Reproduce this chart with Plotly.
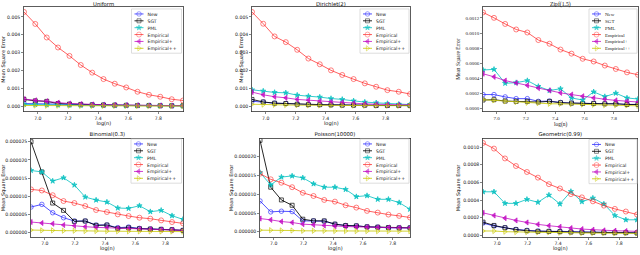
import plotly.graph_objects as go

W, H = 640, 255
S = 2  # drawn at 2x, shown at 1x via CSS scale (keeps tiny fonts at their true size)

# ---------------- data ----------------
x_top = [6.908, 6.983, 7.059, 7.134, 7.210, 7.285, 7.361, 7.436, 7.511, 7.587, 7.662, 7.738, 7.813, 7.889, 7.964]
x_bottom = [6.908, 6.980, 7.052, 7.124, 7.196, 7.268, 7.340, 7.412, 7.484, 7.556, 7.628, 7.700, 7.772, 7.844, 7.917]

series_names = ["New", "SGT", "PML", "Empirical", "Empirical+", "Empirical++"]

# Uniform (x1e-3)
uniform_new = [0.15, 0.14, 0.12, 0.10, 0.09, 0.08, 0.07, 0.06, 0.05, 0.05, 0.04, 0.04, 0.03, 0.03, 0.03]
uniform_sgt = [0.38, 0.30, 0.27, 0.15, 0.12, 0.10, 0.08, 0.07, 0.06, 0.05, 0.04, 0.04, 0.03, 0.03, 0.03]
uniform_pml = [0.10, 0.09, 0.08, 0.07, 0.06, 0.05, 0.05, 0.04, 0.04, 0.03, 0.03, 0.03, 0.03, 0.02, 0.02]
uniform_emp = [5.28, 4.61, 3.85, 3.29, 2.82, 2.31, 1.88, 1.52, 1.26, 1.05, 0.81, 0.64, 0.53, 0.39, 0.32]
uniform_empp = [0.40, 0.33, 0.28, 0.20, 0.15, 0.12, 0.10, 0.08, 0.07, 0.06, 0.05, 0.04, 0.04, 0.03, 0.03]
uniform_emppp = [0.04, 0.04, 0.03, 0.03, 0.03, 0.02, 0.02, 0.02, 0.02, 0.02, 0.01, 0.01, 0.01, 0.01, 0.01]

# Dirichlet(2) (x1e-3)
dirichlet_new = [0.28, 0.23, 0.17, 0.15, 0.11, 0.09, 0.08, 0.07, 0.06, 0.05, 0.05, 0.04, 0.04, 0.04, 0.03]
dirichlet_sgt = [0.38, 0.24, 0.17, 0.15, 0.11, 0.09, 0.09, 0.08, 0.06, 0.06, 0.06, 0.04, 0.04, 0.04, 0.04]
dirichlet_pml = [0.92, 0.85, 0.77, 0.75, 0.62, 0.56, 0.51, 0.43, 0.38, 0.30, 0.23, 0.19, 0.15, 0.11, 0.09]
dirichlet_emp = [5.28, 4.62, 3.91, 3.59, 3.16, 2.67, 2.35, 2.01, 1.75, 1.52, 1.28, 1.09, 0.90, 0.81, 0.68]
dirichlet_empp = [0.79, 0.64, 0.53, 0.47, 0.38, 0.34, 0.28, 0.24, 0.21, 0.17, 0.13, 0.11, 0.09, 0.08, 0.08]
dirichlet_emppp = [0.11, 0.09, 0.08, 0.07, 0.06, 0.05, 0.05, 0.04, 0.04, 0.04, 0.03, 0.03, 0.03, 0.03, 0.03]

# Zipf(1.5) (x1e-3)
zipf_new = [0.185, 0.185, 0.154, 0.131, 0.131, 0.095, 0.099, 0.081, 0.072, 0.068, 0.068, 0.063, 0.063, 0.054, 0.054]
zipf_sgt = [0.113, 0.117, 0.099, 0.095, 0.095, 0.086, 0.095, 0.077, 0.072, 0.068, 0.068, 0.063, 0.063, 0.054, 0.054]
zipf_pml = [0.510, 0.519, 0.334, 0.343, 0.370, 0.293, 0.239, 0.262, 0.140, 0.113, 0.221, 0.158, 0.203, 0.140, 0.126]
zipf_emp = [1.273, 1.201, 1.120, 1.047, 1.007, 0.907, 0.858, 0.781, 0.727, 0.659, 0.623, 0.569, 0.524, 0.479, 0.447]
zipf_empp = [0.461, 0.420, 0.370, 0.339, 0.307, 0.271, 0.239, 0.208, 0.185, 0.163, 0.140, 0.122, 0.108, 0.095, 0.086]
zipf_emppp = [0.117, 0.108, 0.095, 0.086, 0.077, 0.072, 0.063, 0.063, 0.059, 0.054, 0.050, 0.045, 0.045, 0.041, 0.036]

# Binomial(0.3) (x1e-6)
binom_new = [7.05, 7.78, 5.49, 4.12, 3.21, 3.21, 2.11, 2.11, 1.37, 1.56, 1.19, 1.01, 0.92, 0.82, 0.64]
binom_sgt = [25.0, 16.7, 8.15, 6.14, 3.11, 3.21, 2.01, 2.11, 1.19, 1.37, 1.10, 1.01, 0.92, 0.82, 0.64]
binom_pml = [17.1, 16.7, 14.2, 15.1, 13.1, 9.80, 8.97, 8.42, 6.78, 6.68, 7.42, 5.77, 6.14, 4.67, 3.66]
binom_emp = [11.9, 11.6, 10.3, 8.70, 8.15, 7.33, 6.23, 5.68, 5.04, 4.58, 4.12, 3.85, 3.39, 2.93, 2.56]
binom_empp = [2.93, 2.66, 2.47, 2.11, 1.92, 1.65, 1.47, 1.37, 1.19, 1.10, 1.01, 0.92, 0.82, 0.73, 0.64]
binom_emppp = [0.73, 0.64, 0.64, 0.55, 0.55, 0.46, 0.46, 0.42, 0.40, 0.38, 0.37, 0.35, 0.33, 0.32, 0.30]

# Poisson(10000) (x1e-6)
poisson_new = [8.23, 5.31, 5.49, 5.40, 2.92, 2.92, 2.83, 2.04, 1.68, 1.59, 1.33, 1.24, 1.06, 1.06, 1.06]
poisson_sgt = [24.4, 11.9, 8.50, 7.08, 3.36, 2.92, 2.92, 2.04, 1.68, 1.59, 1.33, 1.24, 1.15, 1.06, 1.06]
poisson_pml = [15.8, 12.5, 14.6, 14.9, 14.4, 12.8, 11.9, 11.9, 11.3, 9.38, 9.65, 8.67, 8.67, 7.79, 6.02]
poisson_emp = [15.5, 14.0, 13.1, 11.9, 10.4, 9.56, 8.50, 8.05, 7.08, 6.46, 5.58, 5.13, 4.60, 4.25, 3.81]
poisson_empp = [3.54, 3.19, 2.74, 2.48, 2.04, 1.86, 1.68, 1.50, 1.42, 1.33, 1.24, 1.15, 1.15, 1.06, 1.06]
poisson_emppp = [0.44, 0.44, 0.35, 0.35, 0.27, 0.27, 0.27, 0.22, 0.22, 0.20, 0.20, 0.18, 0.18, 0.18, 0.18]

# Geometric(0.99) (x1e-3)
geom_new = [0.139, 0.105, 0.086, 0.067, 0.056, 0.049, 0.045, 0.045, 0.041, 0.037, 0.037, 0.034, 0.034, 0.030, 0.030]
geom_sgt = [0.150, 0.112, 0.086, 0.064, 0.052, 0.045, 0.045, 0.041, 0.037, 0.034, 0.034, 0.030, 0.030, 0.030, 0.026]
geom_pml = [0.494, 0.494, 0.363, 0.363, 0.408, 0.375, 0.457, 0.356, 0.498, 0.382, 0.423, 0.356, 0.225, 0.176, 0.176]
geom_emp = [1.049, 0.985, 0.873, 0.787, 0.719, 0.655, 0.581, 0.532, 0.468, 0.431, 0.386, 0.337, 0.300, 0.270, 0.236]
geom_empp = [0.255, 0.225, 0.195, 0.169, 0.146, 0.124, 0.109, 0.097, 0.082, 0.071, 0.064, 0.056, 0.052, 0.049, 0.045]
geom_emppp = [0.049, 0.049, 0.041, 0.037, 0.037, 0.034, 0.034, 0.030, 0.030, 0.026, 0.026, 0.026, 0.022, 0.022, 0.022]

x_ticks = [7.0, 7.2, 7.4, 7.6, 7.8]

# ---------------- styles ----------------
styles = {
    "New": dict(color="rgba(40,40,255,0.8)", symbol="circle-open", size=4.5),
    "SGT": dict(color="rgba(0,0,0,0.85)", symbol="square-open", size=4),
    "PML": dict(color="rgba(0,191,191,0.8)", symbol="star", size=4),
    "Empirical": dict(color="rgba(255,30,30,0.7)", symbol="circle-open", size=5),
    "Empirical+": dict(color="rgba(191,0,191,0.75)", symbol="triangle-left", size=4.5),
    "Empirical++": dict(color="rgba(200,200,0,0.8)", symbol="triangle-right-open", size=4.5),
}

SANS = "DejaVu Sans"
SERIF = "Liberation Serif"

panels = [
    dict(title="Uniform", x=x_top, scale=1e-3,
         ys=[uniform_new, uniform_sgt, uniform_pml, uniform_emp, uniform_empp, uniform_emppp],
         yr=(-0.30, 5.56), dtick=1e-3, fmt=".3f", px=(24, 183), py=(7, 112),
         leg=(131.5, 9, 181.5), ylab_x=3, title_y=4, xlab_y=123, font=SANS, fs=4.6),
    dict(title="Dirichlet(2)", x=x_top, scale=1e-3,
         ys=[dirichlet_new, dirichlet_sgt, dirichlet_pml, dirichlet_emp, dirichlet_empp, dirichlet_emppp],
         yr=(-0.30, 5.56), dtick=1e-3, fmt=".3f", px=(252, 410), py=(7, 112),
         leg=(360, 9, 409), ylab_x=241, title_y=4, xlab_y=123, font=SANS, fs=4.6),
    dict(title="Zipf(1.5)", x=x_top, scale=1e-3,
         ys=[zipf_new, zipf_sgt, zipf_pml, zipf_emp, zipf_empp, zipf_emppp],
         yr=(-0.04, 1.345), dtick=2e-4, fmt=".4f", px=(483, 638), py=(7, 112),
         leg=(589, 9, 637), ylab_x=458, title_y=4, xlab_y=124.5, font=SERIF, fs=5.0),
    dict(title="Binomial(0.3)", x=x_bottom, scale=1e-6,
         ys=[binom_new, binom_sgt, binom_pml, binom_emp, binom_empp, binom_emppp],
         yr=(-1.2, 25.9), dtick=5e-6, fmt=".6f", px=(31, 183), py=(139, 238),
         leg=(131, 139.5, 181.5), ylab_x=3, title_y=134, xlab_y=249, font=SANS, fs=4.6),
    dict(title="Poisson(10000)", x=x_bottom, scale=1e-6,
         ys=[poisson_new, poisson_sgt, poisson_pml, poisson_emp, poisson_empp, poisson_emppp],
         yr=(-1.4, 24.9), dtick=5e-6, fmt=".6f", px=(260, 410), py=(139, 238),
         leg=(360, 139.5, 409), ylab_x=231, title_y=134, xlab_y=249, font=SANS, fs=4.6),
    dict(title="Geometric(0.99)", x=x_bottom, scale=1e-3,
         ys=[geom_new, geom_sgt, geom_pml, geom_emp, geom_empp, geom_emppp],
         yr=(-0.02, 1.10), dtick=2e-4, fmt=".4f", px=(483, 637), py=(139, 238),
         leg=(589, 140, 637), ylab_x=458, title_y=134, xlab_y=249, font=SANS, fs=4.6),
]

fig = go.Figure()
layout = dict(width=W * S, height=H * S, margin=dict(l=0, r=0, t=0, b=0), autosize=False,
              paper_bgcolor="white", plot_bgcolor="rgba(0,0,0,0)", showlegend=False,
              annotations=[])

axis_common = dict(showline=True, mirror=True, linecolor="#333", linewidth=0.8 * S,
                   showgrid=False, zeroline=False, ticks="outside", ticklen=2 * S,
                   tickwidth=0.6 * S, tickcolor="#333")

for i, p in enumerate(panels):
    n = i + 1
    xa = "x" if n == 1 else f"x{n}"
    ya = "y" if n == 1 else f"y{n}"
    xkey = "xaxis" if n == 1 else f"xaxis{n}"
    ykey = "yaxis" if n == 1 else f"yaxis{n}"
    fs = p["fs"]
    for name, vals in zip(series_names, p["ys"]):
        st = styles[name]
        fig.add_trace(go.Scatter(
            x=p["x"], y=[v * p["scale"] for v in vals], mode="lines+markers", name=name,
            xaxis=xa, yaxis=ya,
            line=dict(color=st["color"], width=1 * S),
            marker=dict(symbol=st["symbol"], size=st["size"] * S, color=st["color"],
                        line=dict(color=st["color"], width=0.8 * S)),
        ))
    tf = dict(family=p["font"], size=fs * S, color="#222")
    layout[xkey] = dict(axis_common, domain=[p["px"][0] / W, p["px"][1] / W],
                        range=[p["x"][0], p["x"][-1]], tickvals=x_ticks,
                        tickformat=".1f", tickfont=tf, anchor=ya)
    layout[ykey] = dict(axis_common, domain=[1 - p["py"][1] / H, 1 - p["py"][0] / H],
                        range=[p["yr"][0] * p["scale"], p["yr"][1] * p["scale"]],
                        dtick=p["dtick"], tick0=0, tickformat=p["fmt"], tickfont=tf, anchor=xa)
    cx = (p["px"][0] + p["px"][1]) / 2
    cy = (p["py"][0] + p["py"][1]) / 2
    af = dict(family=p["font"], size=(fs + 0.4) * S, color="#111")
    layout["annotations"] += [
        dict(text=p["title"], x=cx, y=p["title_y"], xref="x7", yref="y7", showarrow=False,
             font=dict(family=p["font"], size=(fs + 0.7) * S, color="#111"), xanchor="center", yanchor="middle"),
        dict(text="log(n)", x=cx, y=p["xlab_y"], xref="x7", yref="y7", showarrow=False,
             font=af, xanchor="center", yanchor="middle"),
        dict(text="Mean Square Error", x=p["ylab_x"], y=cy, xref="x7", yref="y7", showarrow=False,
             font=af, textangle=-90, xanchor="center", yanchor="middle"),
    ]

    # ---- compact legend (box + glyph + label) on full-page overlay axes ----
    l, t, r = p["leg"]
    row = 6.9
    b = t + 6 * row + 3
    fig.add_trace(go.Scatter(x=[l, r, r, l, l], y=[t, t, b, b, t], mode="lines", fill="toself",
                             fillcolor="rgba(255,255,255,0.9)", line=dict(color="#cfcfcf", width=0.7 * S),
                             xaxis="x7", yaxis="y7", hoverinfo="skip"))
    for k, name in enumerate(series_names):
        st = styles[name]
        yy = t + 5 + row * k
        fig.add_trace(go.Scatter(x=[l + 3, l + 7.5, l + 12], y=[yy, yy, yy], mode="lines+markers",
                                 line=dict(color=st["color"], width=1 * S),
                                 marker=dict(symbol=st["symbol"], size=[0, st["size"] * S, 0], color=st["color"],
                                             line=dict(color=st["color"], width=0.8 * S)),
                                 xaxis="x7", yaxis="y7", hoverinfo="skip"))
        layout["annotations"].append(dict(text=name, x=l + 15, y=yy, xref="x7", yref="y7",
                                          showarrow=False, xanchor="left", yanchor="middle",
                                          font=dict(family=p["font"], size=fs * S, color="#222")))

layout["xaxis7"] = dict(domain=[0, 1], range=[0, W], visible=False, anchor="y7", fixedrange=True)
layout["yaxis7"] = dict(domain=[0, 1], range=[H, 0], visible=False, anchor="x7", fixedrange=True)

fig.update_layout(**layout)

shrink_js = (
    "document.documentElement.style.overflow='hidden';"
    "document.body.style.margin='0';document.body.style.overflow='hidden';"
    "var d=document.getElementById('{plot_id}');"
    "d.style.transformOrigin='0 0';d.style.transform='scale(" + str(1 / S) + ")';"
)
fig.write_html("out.html", post_script=shrink_js,
               config={"displayModeBar": False, "staticPlot": True})
